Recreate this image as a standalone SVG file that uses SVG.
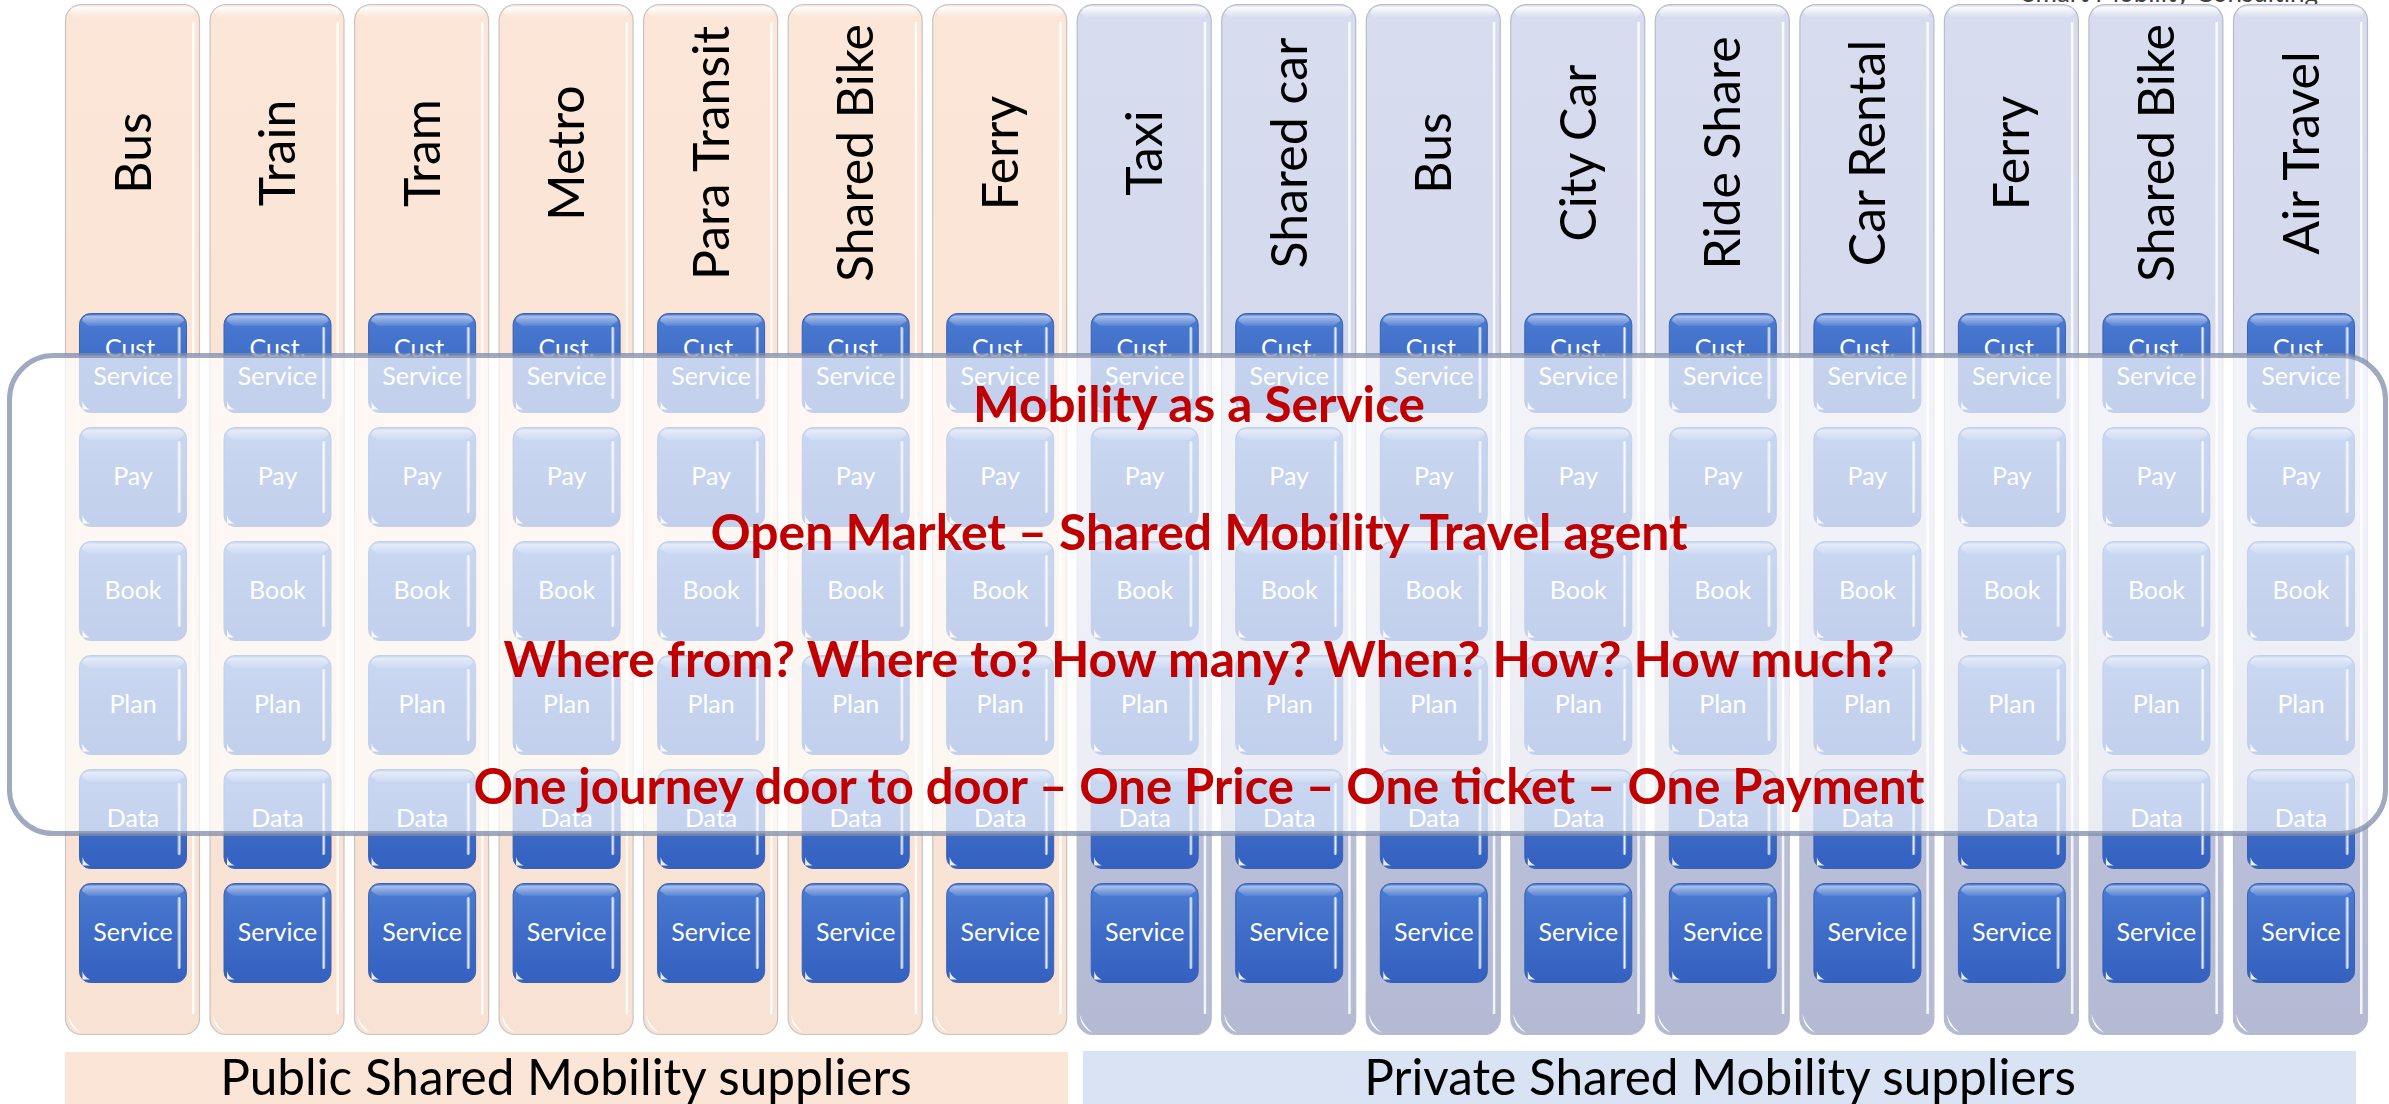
<svg xmlns="http://www.w3.org/2000/svg" xmlns:xlink="http://www.w3.org/1999/xlink" width="2389" height="1104" viewBox="0 0 2389 1104">
<style>
.hdr{font-family:Lato,"Open Sans","Liberation Sans",sans-serif;font-size:50px;fill:#000;text-anchor:middle}
.bt{font-family:Lato,"Open Sans","Liberation Sans",sans-serif;font-size:25px;fill:#fff;text-anchor:middle}
.red{font-family:Lato,"Open Sans","Liberation Sans",sans-serif;font-size:50px;font-weight:bold;fill:#C00000;text-anchor:middle}
.lbl{font-family:Lato,"Open Sans","Liberation Sans",sans-serif;font-size:49.5px;fill:#000;text-anchor:middle}
.tiny{font-family:Lato,"Open Sans","Liberation Sans",sans-serif;font-size:26px;fill:#404040;text-anchor:end}
</style>
<defs>
<linearGradient id="gPub" x1="0" y1="0" x2="0" y2="1"><stop offset="0" stop-color="#FBE6D8"/><stop offset="1" stop-color="#F8E2D3"/></linearGradient>
<linearGradient id="gPriv" x1="0" y1="0" x2="0" y2="1"><stop offset="0" stop-color="#D8DCEF"/><stop offset="0.45" stop-color="#D3D8EC"/><stop offset="0.8" stop-color="#BABFD9"/><stop offset="1" stop-color="#B4B9D4"/></linearGradient>
<linearGradient id="gHiTop" x1="0" y1="0" x2="0" y2="1"><stop offset="0" stop-color="#fff" stop-opacity="0.95"/><stop offset="1" stop-color="#fff" stop-opacity="0"/></linearGradient>
<linearGradient id="gBtn" x1="0" y1="0" x2="0" y2="1"><stop offset="0" stop-color="#4F7ED4"/><stop offset="0.15" stop-color="#4877CF"/><stop offset="0.5" stop-color="#3E6CC7"/><stop offset="1" stop-color="#3461C0"/></linearGradient>
<linearGradient id="gBtnTop" x1="0" y1="0" x2="0" y2="1"><stop offset="0" stop-color="#fff" stop-opacity="0.55"/><stop offset="1" stop-color="#fff" stop-opacity="0.08"/></linearGradient>
<linearGradient id="gBtnR" x1="0" y1="0" x2="1" y2="0"><stop offset="0" stop-color="#fff" stop-opacity="0"/><stop offset="0.55" stop-color="#fff" stop-opacity="0.9"/><stop offset="1" stop-color="#fff" stop-opacity="0.25"/></linearGradient>
<g id="colPub">
<rect x="0.5" y="0.5" width="134" height="1030" rx="16" fill="url(#gPub)" stroke="#C8C4C2" stroke-width="1.2"/>
<path d="M14 2.5 H121 Q129 2.5 131 9 L126 14 H9 L4 9 Q6 2.5 14 2.5 Z" fill="url(#gHiTop)"/>
<rect x="127" y="18" width="2.5" height="992" fill="#fff" opacity="0.85"/>
<path d="M3 1010 Q4 1024 16 1029 Q6 1021 3 1010 Z" fill="#fff"/>
</g>
<g id="colPriv">
<rect x="0.5" y="0.5" width="134" height="1030" rx="16" fill="url(#gPriv)" stroke="#B8BBC8" stroke-width="1.2"/>
<path d="M14 2.5 H121 Q129 2.5 131 9 L126 14 H9 L4 9 Q6 2.5 14 2.5 Z" fill="url(#gHiTop)"/>
<rect x="127" y="18" width="2.5" height="992" fill="#fff" opacity="0.85"/>
<path d="M3 1010 Q4 1024 16 1029 Q6 1021 3 1010 Z" fill="#fff"/>
</g>
<g id="btn">
<rect x="0.5" y="0.5" width="107" height="99" rx="11" fill="url(#gBtn)" stroke="#3A62B0" stroke-width="1"/>
<path d="M10 2.5 H98 Q104 2.5 105 8 L98 13 H10 L3 8 Q4 2.5 10 2.5 Z" fill="url(#gBtnTop)"/>
<rect x="98" y="14" width="4" height="72" rx="2" fill="url(#gBtnR)"/>
<path d="M3.5 96.5 V88 Q5 94 11 96.5 Z" fill="#fff" opacity="0.9"/>
</g>
<g id="boxes">
<use href="#btn" x="14" y="309"/>
<use href="#btn" x="14" y="423"/>
<use href="#btn" x="14" y="537"/>
<use href="#btn" x="14" y="651"/>
<use href="#btn" x="14" y="765"/>
<use href="#btn" x="14" y="879"/>
<text class="bt" x="68" y="353">Cust.</text>
<text class="bt" x="68" y="381">Service</text>
<text class="bt" x="68" y="481">Pay</text>
<text class="bt" x="68" y="595">Book</text>
<text class="bt" x="68" y="709">Plan</text>
<text class="bt" x="68" y="823">Data</text>
<text class="bt" x="68" y="937">Service</text>
</g>
</defs>

<text class="tiny" x="2318" y="2">Smart Mobility Consulting</text>

<g id="public-suppliers">
<g id="pub-bus" transform="translate(65,4)"><use href="#colPub"/><text class="hdr" transform="translate(85.5,149) rotate(-90)">Bus</text><use href="#boxes"/></g>
<g id="pub-train" transform="translate(209.5,4)"><use href="#colPub"/><text class="hdr" transform="translate(85.5,149) rotate(-90)">Train</text><use href="#boxes"/></g>
<g id="pub-tram" transform="translate(354.1,4)"><use href="#colPub"/><text class="hdr" transform="translate(85.5,149) rotate(-90)">Tram</text><use href="#boxes"/></g>
<g id="pub-metro" transform="translate(498.6,4)"><use href="#colPub"/><text class="hdr" transform="translate(85.5,149) rotate(-90)">Metro</text><use href="#boxes"/></g>
<g id="pub-paratransit" transform="translate(643.1,4)"><use href="#colPub"/><text class="hdr" transform="translate(85.5,149) rotate(-90)">Para Transit</text><use href="#boxes"/></g>
<g id="pub-sharedbike" transform="translate(787.7,4)"><use href="#colPub"/><text class="hdr" transform="translate(85.5,149) rotate(-90)">Shared Bike</text><use href="#boxes"/></g>
<g id="pub-ferry" transform="translate(932.2,4)"><use href="#colPub"/><text class="hdr" transform="translate(85.5,149) rotate(-90)">Ferry</text><use href="#boxes"/></g>
</g>

<g id="private-suppliers">
<g id="priv-taxi" transform="translate(1076.7,4)"><use href="#colPriv"/><text class="hdr" transform="translate(85.5,149) rotate(-90)">Taxi</text><use href="#boxes"/></g>
<g id="priv-sharedcar" transform="translate(1221.2,4)"><use href="#colPriv"/><text class="hdr" transform="translate(85.5,149) rotate(-90)">Shared car</text><use href="#boxes"/></g>
<g id="priv-bus" transform="translate(1365.8,4)"><use href="#colPriv"/><text class="hdr" transform="translate(85.5,149) rotate(-90)">Bus</text><use href="#boxes"/></g>
<g id="priv-citycar" transform="translate(1510.3,4)"><use href="#colPriv"/><text class="hdr" transform="translate(85.5,149) rotate(-90)">City Car</text><use href="#boxes"/></g>
<g id="priv-rideshare" transform="translate(1654.8,4)"><use href="#colPriv"/><text class="hdr" transform="translate(85.5,149) rotate(-90)">Ride Share</text><use href="#boxes"/></g>
<g id="priv-carrental" transform="translate(1799.4,4)"><use href="#colPriv"/><text class="hdr" transform="translate(85.5,149) rotate(-90)">Car Rental</text><use href="#boxes"/></g>
<g id="priv-ferry" transform="translate(1943.9,4)"><use href="#colPriv"/><text class="hdr" transform="translate(85.5,149) rotate(-90)">Ferry</text><use href="#boxes"/></g>
<g id="priv-sharedbike" transform="translate(2088.4,4)"><use href="#colPriv"/><text class="hdr" transform="translate(85.5,149) rotate(-90)">Shared Bike</text><use href="#boxes"/></g>
<g id="priv-airtravel" transform="translate(2233,4)"><use href="#colPriv"/><text class="hdr" transform="translate(85.5,149) rotate(-90)">Air Travel</text><use href="#boxes"/></g>
</g>

<g id="maas-overlay">
<rect x="9.5" y="355.5" width="2376" height="478" rx="44" fill="#fff" fill-opacity="0.7" stroke="#7F8CAA" stroke-opacity="0.75" stroke-width="5"/>
<text class="red" x="1199" y="422" textLength="452" lengthAdjust="spacingAndGlyphs">Mobility as a Service</text>
<text class="red" x="1199" y="550" textLength="977" lengthAdjust="spacingAndGlyphs">Open Market – Shared Mobility Travel agent</text>
<text class="red" x="1199" y="677" textLength="1391" lengthAdjust="spacingAndGlyphs">Where from? Where to? How many? When? How? How much?</text>
<text class="red" x="1199" y="804" textLength="1451" lengthAdjust="spacingAndGlyphs">One journey door to door – One Price – One ticket – One Payment</text>
</g>

<g id="public-label">
<rect x="65" y="1052" width="1003" height="52" fill="#FBE5D6"/>
<text class="lbl" x="566" y="1095">Public Shared Mobility suppliers</text>
</g>
<g id="private-label">
<rect x="1083" y="1051" width="1273" height="53" fill="#DAE3F3"/>
<text class="lbl" x="1720" y="1095">Private Shared Mobility suppliers</text>
</g>
<g id="connectors"/>
</svg>
